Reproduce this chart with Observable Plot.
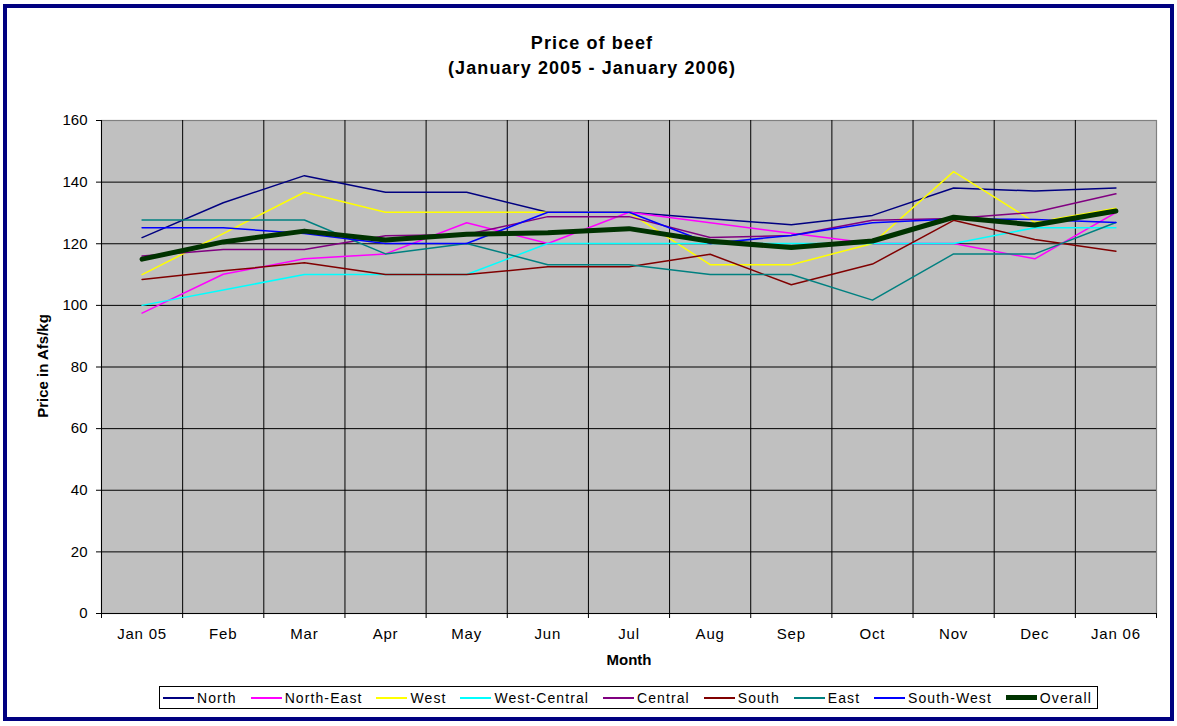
<!DOCTYPE html>
<html>
<head>
<meta charset="utf-8">
<script src="https://cdn.jsdelivr.net/npm/d3@7"></script>
<script src="https://cdn.jsdelivr.net/npm/@observablehq/plot@0.6"></script>
<style>
  html, body { margin: 0; padding: 0; background: #fff; }
  body { width: 1177px; height: 726px; position: relative; overflow: hidden; font-family: "Liberation Sans", Arial, sans-serif; }
  #frame { position: absolute; left: 3px; top: 4px; width: 1163px; height: 709px; border: 4px solid #000080; }
  #title { position: absolute; left: 342px; width: 500px; top: 31px; text-align: center; font-weight: bold; font-size: 18px; line-height: 25px; letter-spacing: 1.1px; color: #000; }
  #ylabel { position: absolute; left: -57px; top: 356px; width: 200px; height: 20px; line-height: 20px; text-align: center; transform: rotate(-90deg); font-weight: bold; font-size: 15px; }
  #xlabel { position: absolute; left: 529px; width: 200px; top: 650px; line-height: 20px; text-align: center; font-weight: bold; font-size: 15px; }
  #chart { position: absolute; left: 0; top: 100px; }
  #legend { position: absolute; left: 159px; top: 686px; width: 929px; height: 21px; border: 1px solid #000; display: flex; align-items: center; justify-content: space-between; padding: 0 5px 0 3px; font-size: 14px; letter-spacing: 1.1px; }
  .item { display: flex; align-items: center; }
  .sw { width: 31px; height: 0; margin-right: 3px; }
</style>
</head>
<body>
<div id="frame"></div>
<div id="title">Price of beef<br>(January 2005 - January 2006)</div>
<div id="ylabel">Price in Afs/kg</div>
<div id="chart"></div>
<div id="xlabel">Month</div>
<div id="legend"></div>
<script>
const months = ["Jan 05","Feb","Mar","Apr","May","Jun","Jul","Aug","Sep","Oct","Nov","Dec","Jan 06"];
const seriesNames = ["North","North-East","West","West-Central","Central","South","East","South-West","Overall"];
const seriesColors = ["#000080","#FF00FF","#FFFF00","#00FFFF","#800080","#800000","#008080","#0000FF","#003300"];

const north       = [122.0, 133.3, 142.1, 136.7, 136.7, 130.2, 130.2, 128.1, 126.2, 129.2, 138.1, 137.1, 138.1];
const northEast   = [97.5, 110.1, 115.1, 116.7, 126.8, 120.1, 130.2, 126.8, 123.4, 120.1, 120.1, 115.1, 130.1];
const west        = [110.0, 123.3, 136.7, 130.2, 130.2, 130.2, 130.2, 113.2, 113.2, 120.1, 143.4, 126.9, 131.5];
const westCentral = [100.0, 105.0, 110.0, 110.0, 110.0, 120.1, 120.1, 120.1, 120.1, 120.1, 120.1, 125.2, 125.2];
const central     = [116.0, 118.1, 118.1, 122.6, 123.0, 128.8, 128.8, 122.0, 122.7, 127.6, 128.2, 130.2, 136.2];
const south       = [108.4, 111.2, 113.8, 110.0, 110.0, 112.5, 112.5, 116.6, 106.7, 113.4, 127.6, 121.4, 117.6];
const east        = [127.7, 127.7, 127.7, 116.7, 120.1, 113.2, 113.2, 110.0, 110.0, 101.7, 116.7, 116.7, 126.9];
const southWest   = [125.2, 125.2, 123.3, 120.1, 120.1, 130.2, 130.2, 120.1, 122.7, 126.8, 128.0, 127.9, 126.9];
const overall     = [115.0, 120.6, 124.1, 121.2, 123.1, 123.6, 124.9, 120.8, 118.8, 120.9, 128.6, 126.1, 130.6];

const yTicks = [0, 20, 40, 60, 80, 100, 120, 140, 160];

const seriesValues = [north, northEast, west, westCentral, central, south, east, southWest, overall];
const idx = months.map((m, i) => i);
const bounds = d3.range(months.length + 1).map(i => i - 0.5);

const lineMarks = seriesNames.map((name, s) =>
  Plot.line(seriesValues[s].map((v, i) => ({i, v, name})), {
    x: "i", y: "v",
    stroke: seriesColors[s],
    strokeWidth: name === "Overall" ? 5 : 1.5,
    strokeLinejoin: "round"
  })
);

const chart = Plot.plot({
  width: 1177,
  height: 580,
  marginLeft: 101,
  marginRight: 21,
  marginTop: 20,
  marginBottom: 67,
  style: { fontFamily: "'Liberation Sans', Arial, sans-serif", fontSize: "15px", background: "transparent", color: "#000" },
  x: { type: "linear", domain: [-0.5, months.length - 0.5] },
  y: { domain: [0, 160] },
  marks: [
    Plot.frame({ fill: "#C0C0C0", stroke: "#808080", strokeWidth: 1.2 }),
    Plot.ruleY(yTicks.filter(t => t > 0 && t < 160), { stroke: "#000", strokeWidth: 1 }),
    Plot.ruleX(bounds.slice(1, -1), { stroke: "#000", strokeWidth: 1 }),
    ...lineMarks,
    Plot.ruleX([-0.5], { stroke: "#000", strokeWidth: 1 }),
    Plot.ruleY([0], { stroke: "#000", strokeWidth: 1 }),
    Plot.axisY(yTicks, { tickSize: 5, tickPadding: 9, label: null, tickFormat: d => String(d) }),
    Plot.axisX(idx, { tickSize: 0, tickPadding: 15, label: null, tickFormat: i => months[i] }),
    Plot.axisX(bounds, { tickSize: 5, label: null, tickFormat: () => "" })
  ]
});
document.getElementById("chart").appendChild(chart);
chart.querySelectorAll('[aria-label="x-axis tick label"] text').forEach(t => t.style.letterSpacing = "0.8px");

const legend = document.getElementById("legend");
seriesNames.forEach((name, s) => {
  const item = document.createElement("div");
  item.className = "item";
  const sw = document.createElement("div");
  sw.className = "sw";
  const h = name === "Overall" ? 5 : 2;
  sw.style.borderTop = h + "px solid " + seriesColors[s];
  const label = document.createElement("span");
  label.textContent = name;
  item.appendChild(sw);
  item.appendChild(label);
  legend.appendChild(item);
});
</script>
</body>
</html>
